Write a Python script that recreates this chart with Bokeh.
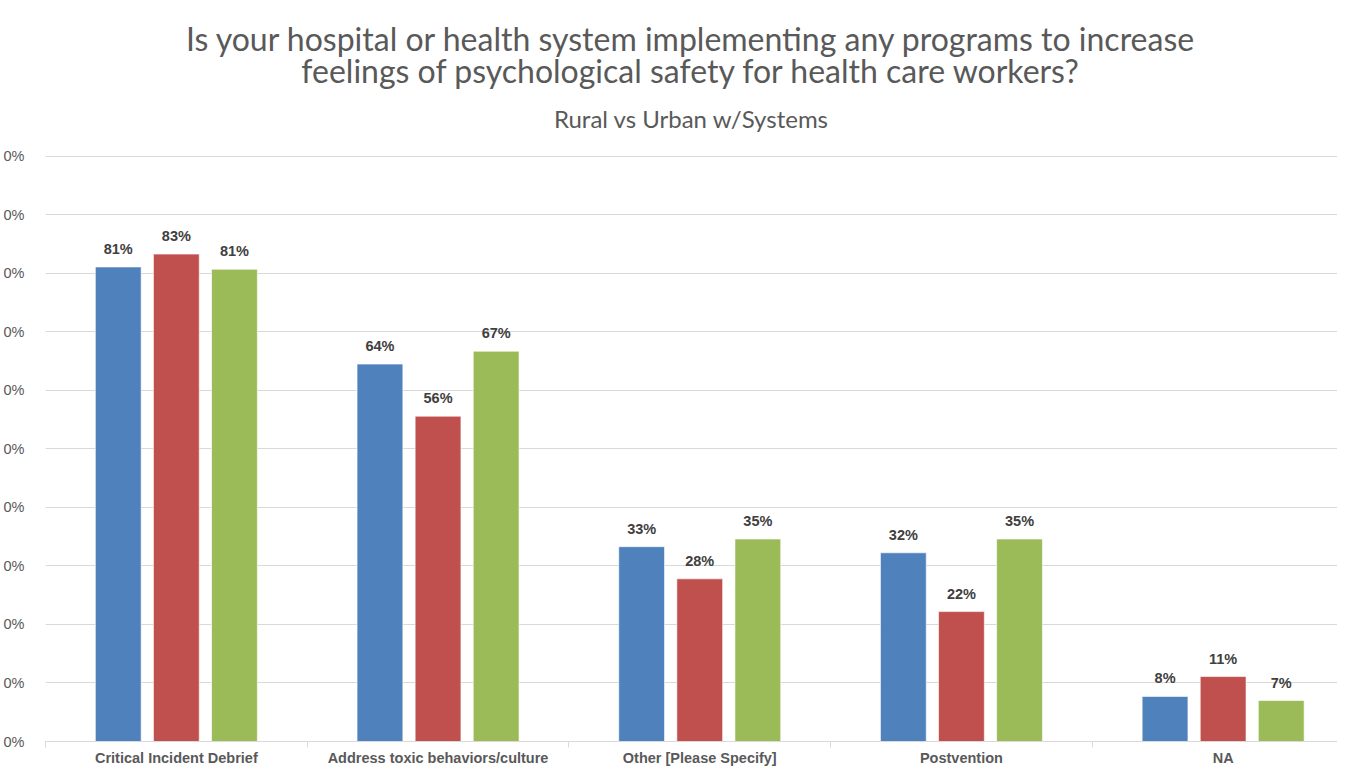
from bokeh.plotting import figure
from bokeh.models import Range1d, FixedTicker, Title, ColumnDataSource
from bokeh.core.properties import value
from bokeh.embed import file_html
from bokeh.resources import INLINE

categories = ["Critical Incident Debrief", "Address toxic behaviors/culture",
              "Other [Please Specify]", "Postvention", "NA"]
series_names = ["Rural", "Urban", "Urban w/Systems"]
rural = [0.811, 0.645, 0.333, 0.3225, 0.077]
urban = [0.833, 0.556, 0.278, 0.222, 0.111]
systems = [0.807, 0.667, 0.346, 0.346, 0.070]
colors = ["#4F81BD", "#C0504D", "#9BBB59"]
y_ticks = [0.0, 0.1, 0.2, 0.3, 0.4, 0.5, 0.6, 0.7, 0.8, 0.9, 1.0]
y_tick_labels = ["0%"] * 11

title_line1 = "Is your hospital or health system implementing any programs to increase"
title_line2 = "feelings of psychological safety for health care workers?"
subtitle = "Rural vs Urban w/Systems"

TITLE_FONT = "Lato"
BODY_FONT = "Liberation Sans"

centers = [i + 0.5 for i in range(len(categories))]
offsets = [-0.222, 0.0, 0.222]
bar_w = 0.175

p = figure(width=1337, height=768, output_backend="svg", toolbar_location=None,
           x_range=Range1d(0, 4.937), y_range=Range1d(0, 1.0015),
           min_border_left=0, min_border_right=0, min_border_top=0, min_border_bottom=0)
p.outline_line_color = None
p.background_fill_color = "white"
p.border_fill_color = "white"

# titles (added innermost first)
p.add_layout(Title(text=subtitle, align="center", text_font=TITLE_FONT,
                   text_font_size="24px", text_font_style="normal",
                   text_color="#595959", standoff=45), "above")
p.add_layout(Title(text=title_line2, align="center", text_font=TITLE_FONT,
                   text_font_size="32px", text_font_style="normal",
                   text_color="#595959", standoff=-20), "above")
p.add_layout(Title(text=title_line1, align="center", text_font=TITLE_FONT,
                   text_font_size="32px", text_font_style="normal",
                   text_color="#595959", standoff=2), "above")
p.add_layout(Title(text=" ", align="center", text_font=TITLE_FONT,
                   text_font_size="8px", text_color="#595959", standoff=3), "above")

for vals, off, col, name in zip([rural, urban, systems], offsets, colors, series_names):
    xs = [c + off for c in centers]
    src = ColumnDataSource(dict(x=xs, top=vals,
                                label=[f"{round(v * 100)}%" for v in vals]))
    p.vbar(x="x", top="top", bottom=0, width=bar_w, source=src,
           fill_color=col, line_color="white", line_width=1, line_alpha=0.6)
    p.text(x="x", y="top", text="label", source=src,
           text_align="center", text_baseline="alphabetic", y_offset=-18,
           text_font=value(BODY_FONT), text_font_size="14.5px",
           text_font_style="bold", text_color="#404040")

# x axis
xa = p.xaxis[0]
xa.ticker = FixedTicker(ticks=centers, minor_ticks=[0, 1, 2, 3, 4, 5])
xa.major_label_overrides = {c: lab for c, lab in zip(centers, categories)}
xa.axis_label = None
xa.major_tick_out = 0
xa.major_tick_in = 0
xa.minor_tick_out = 0
xa.minor_tick_in = -6
xa.minor_tick_line_color = "#D9D9D9"
xa.axis_line_color = "#D9D9D9"
xa.major_label_text_font = BODY_FONT
xa.major_label_text_font_size = "14.5px"
xa.major_label_text_font_style = "bold"
xa.major_label_text_color = "#595959"
xa.major_label_standoff = 8

# y axis
ya = p.yaxis[0]
ya.ticker = FixedTicker(ticks=y_ticks)
ya.major_label_overrides = {t: lab for t, lab in zip(y_ticks, y_tick_labels)}
ya.axis_label = None
ya.axis_line_color = None
ya.major_tick_line_color = None
ya.minor_tick_line_color = None
ya.major_label_text_font = BODY_FONT
ya.major_label_text_font_size = "14.5px"
ya.major_label_text_color = "#595959"
ya.major_label_standoff = 15

p.xgrid.grid_line_color = None
p.ygrid.ticker = FixedTicker(ticks=y_ticks)
p.ygrid.grid_line_color = "#D9D9D9"
p.ygrid.grid_line_width = 1

open("out.html", "w").write(file_html(p, INLINE))
